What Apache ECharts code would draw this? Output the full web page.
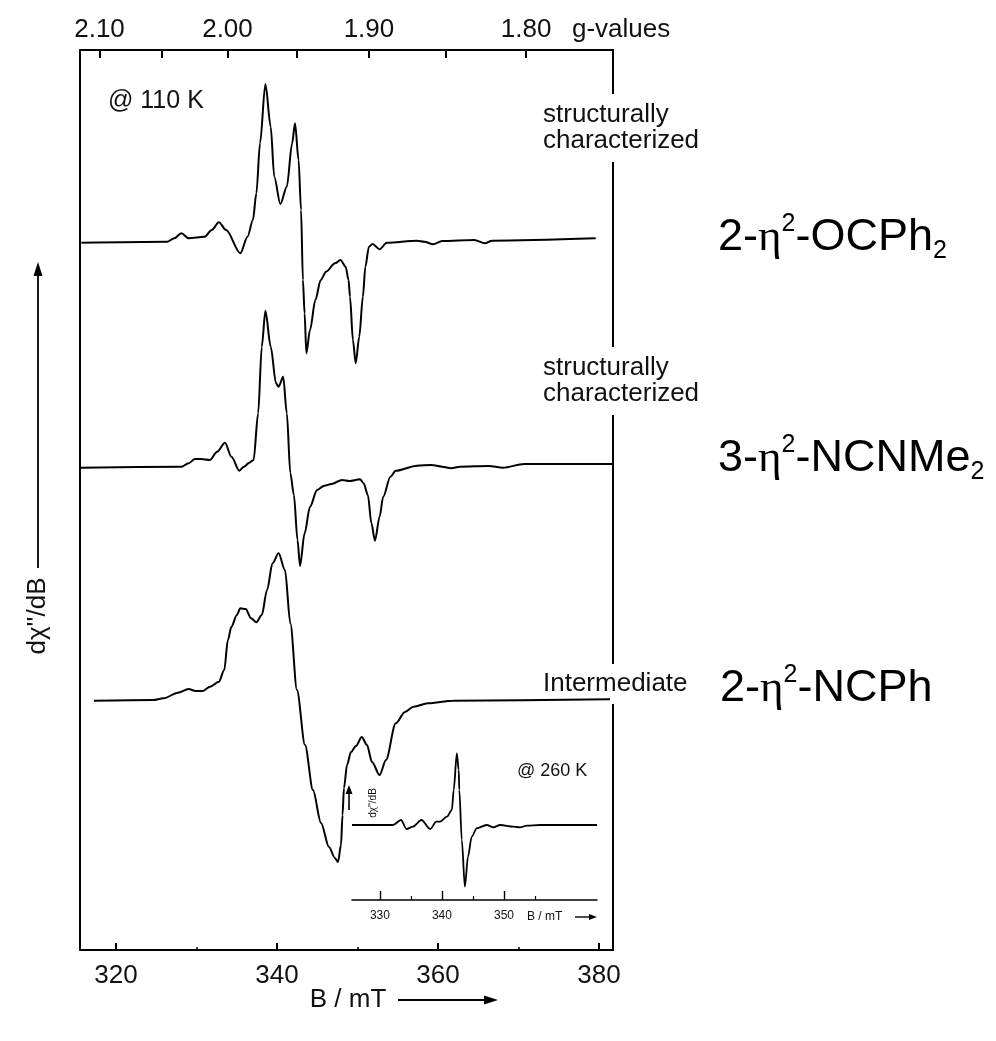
<!DOCTYPE html>
<html><head><meta charset="utf-8">
<script src="https://cdn.jsdelivr.net/npm/echarts@6/dist/echarts.min.js"></script>
<style>html,body{margin:0;padding:0;background:#fff}#c{width:996px;height:1041px}</style>
</head><body><div id="c"></div>
<script>
// ---- axis values ----
const bottomTicks = [320, 340, 360, 380];
const bottomMinorTicks = [330, 350, 370];
const gTicks = [2.10, 2.05, 2.00, 1.95, 1.90, 1.85, 1.80];
const gLabels = [2.10, 2.00, 1.90, 1.80];
const gFactor = 667.7;               // B(mT) * g for the microwave frequency used
const insetTicks = [330, 340, 350];
const insetMinorTicks = [335, 345, 355];

// ---- spectra: [B / mT, dχ''/dB (arbitrary units, stacked)] ----
const spectrumOCPh2 = [[315.70,707.3],[326.35,708.3],[327.24,711.7],[328.12,716.7],[329.02,711.7],[331.01,713.3],[331.90,720.0],[332.78,727.7],[333.68,720.0],[335.45,696.7],[336.34,713.3],[337.01,730.0],[337.44,756.7],[337.89,806.7],[338.56,866.0],[339.22,823.3],[339.66,773.3],[340.42,746.0],[341.22,763.3],[341.88,806.7],[342.24,826.7],[342.68,790.0],[342.99,740.0],[343.22,670.0],[343.43,636.7],[343.65,596.7],[344.10,620.0],[344.77,650.0],[345.43,670.0],[346.09,678.3],[347.20,686.7],[347.88,690.0],[348.53,683.3],[348.89,670.0],[349.07,653.3],[349.43,610.0],[349.78,586.7],[350.22,613.3],[350.67,653.3],[350.98,683.3],[351.42,703.3],[351.86,706.0],[352.75,700.7],[353.64,707.3],[357.39,709.3],[358.30,708.3],[359.40,705.7],[360.51,709.0],[364.51,710.0],[365.84,706.7],[366.72,709.3],[379.59,711.7]];
const spectrumNCNMe2 = [[315.61,482.3],[328.12,483.3],[329.02,486.7],[329.81,491.0],[330.56,491.0],[331.68,490.0],[332.56,498.3],[333.54,507.3],[334.34,493.3],[335.32,479.3],[335.89,483.3],[336.56,487.3],[337.09,490.0],[337.66,536.7],[338.11,603.3],[338.56,639.3],[339.22,603.3],[339.88,566.7],[340.20,563.3],[340.77,573.3],[341.22,536.7],[341.66,476.7],[342.10,455.0],[342.55,410.0],[342.86,384.0],[343.43,416.7],[344.10,443.3],[344.98,460.0],[345.88,464.3],[346.76,466.0],[348.09,470.0],[348.98,469.0],[350.31,470.7],[350.76,466.7],[351.29,455.0],[351.73,426.7],[352.17,409.3],[352.75,433.3],[353.19,453.3],[354.09,473.3],[354.75,479.3],[357.40,484.3],[359.18,485.0],[360.51,483.3],[361.63,481.7],[362.73,483.3],[366.29,484.0],[368.06,482.3],[370.72,486.0],[381.73,486.0]];
const spectrumNCPh = [[317.25,249.3],[324.58,250.0],[325.91,251.7],[327.69,257.3],[329.02,261.0],[329.90,259.0],[330.80,259.0],[331.68,263.3],[332.78,268.3],[333.45,280.0],[333.90,310.0],[334.34,323.3],[335.01,335.0],[335.45,341.7],[336.11,341.0],[336.78,331.7],[337.44,327.7],[338.11,335.0],[338.77,360.0],[339.44,386.7],[340.20,396.7],[340.99,380.0],[341.66,326.7],[342.48,260.0],[343.48,205.0],[344.47,160.0],[345.47,127.0],[346.46,103.0],[347.20,92.0],[347.58,88.0],[347.95,105.0],[348.14,135.0],[348.32,162.0],[348.70,185.0],[349.19,198.0],[349.81,204.0],[350.53,213.0],[351.18,205.0],[351.80,188.0],[352.75,175.0],[353.54,190.0],[354.75,226.7],[355.90,238.0],[356.97,243.3],[358.75,246.7],[361.86,249.3],[381.37,250.7]];
const spectrum260K = [[325.5,75],[332.1,75],[333.4,80],[334.3,71],[335.3,73.3],[336.7,80],[338.1,71],[339.1,78.3],[339.7,78.3],[340.8,83.3],[341.6,90],[341.9,110],[342.4,146.7],[342.7,130],[342.8,110],[343.2,60],[343.7,13.3],[344.2,43.3],[344.8,63.3],[345.6,71.7],[347.2,75],[348.3,72.7],[349.4,75],[351.5,73.3],[352.6,72.7],[353.7,74.3],[355.8,75],[365.0,75]];

const FONT = "'Liberation Sans', Arial, Helvetica, sans-serif";
const INK = '#111';
const chart = echarts.init(document.getElementById('c'), null, {renderer: 'canvas'});

function lineSeries(data, xi, yi, w) {
  return {type: 'line', data, xAxisIndex: xi, yAxisIndex: yi, showSymbol: false, symbol: 'none',
    smooth: 0.3, smoothMonotone: 'x', z: 5, silent: true,
    lineStyle: {color: '#000', width: w}};
}
const noSplit = {show: false};
const chemRich = {
  n: {fontSize: 45, fontFamily: FONT, lineHeight: 52, color: INK},
  e: {fontSize: 45, fontFamily: "'Liberation Serif', 'DejaVu Serif', serif", lineHeight: 52, color: INK},
  p: {fontSize: 25, fontFamily: FONT, lineHeight: 36, verticalAlign: 'top', color: INK},
  b: {fontSize: 25, fontFamily: FONT, lineHeight: 23, verticalAlign: 'bottom', color: INK}
};

const option = {
  backgroundColor: '#fff',
  animation: false,
  grid: [
    {left: 80, top: 50, width: 533, height: 900, outerBoundsMode: 'none'},
    {left: 352, top: 745, width: 245, height: 155, outerBoundsMode: 'none'}
  ],
  xAxis: [
    {type: 'value', gridIndex: 0, position: 'bottom', min: 315.53, max: 381.74,
     axisLine: {show: true, onZero: false, lineStyle: {color: '#000', width: 2}},
     axisTick: {show: true, inside: true, length: 7, customValues: bottomTicks, lineStyle: {color: '#000', width: 2}},
     axisLabel: {show: true, customValues: bottomTicks, margin: 13, fontSize: 26, fontFamily: FONT, color: INK},
     splitLine: noSplit},
    {type: 'value', gridIndex: 0, position: 'bottom', min: 315.53, max: 381.74,
     axisLine: {show: false, onZero: false},
     axisTick: {show: true, inside: true, length: 3, customValues: bottomMinorTicks, lineStyle: {color: '#000', width: 1.5}},
     axisLabel: {show: false}, splitLine: noSplit},
    {type: 'value', gridIndex: 0, position: 'top', min: 315.53, max: 381.74,
     axisLine: {show: true, onZero: false, lineStyle: {color: '#000', width: 2}},
     axisTick: {show: true, inside: true, length: 8, customValues: gTicks.map(g => gFactor / g), lineStyle: {color: '#000', width: 2}},
     axisLabel: {show: true, customValues: gLabels.map(g => gFactor / g), margin: 7, fontSize: 26, fontFamily: FONT, color: INK,
       formatter: v => (gFactor / v).toFixed(2)},
     splitLine: noSplit},
    {type: 'value', gridIndex: 1, position: 'bottom', min: 325.5, max: 365.0,
     axisLine: {show: true, onZero: false, lineStyle: {color: '#000', width: 1.6}},
     axisTick: {show: true, inside: true, length: 9, customValues: insetTicks, lineStyle: {color: '#000', width: 1.4}},
     axisLabel: {show: true, customValues: insetTicks, margin: 10, fontSize: 12, fontFamily: FONT, color: INK},
     splitLine: noSplit},
    {type: 'value', gridIndex: 1, position: 'bottom', min: 325.5, max: 365.0,
     axisLine: {show: false, onZero: false},
     axisTick: {show: true, inside: true, length: 4, customValues: insetMinorTicks, lineStyle: {color: '#000', width: 1.2}},
     axisLabel: {show: false}, splitLine: noSplit}
  ],
  yAxis: [
    {type: 'value', gridIndex: 0, position: 'left', min: 0, max: 900,
     axisLine: {show: true, onZero: false, lineStyle: {color: '#000', width: 2}},
     axisTick: {show: false}, axisLabel: {show: false}, splitLine: noSplit},
    {type: 'value', gridIndex: 0, position: 'right', min: 0, max: 900,
     axisLine: {show: true, onZero: false, lineStyle: {color: '#000', width: 2}},
     axisTick: {show: false}, axisLabel: {show: false}, splitLine: noSplit},
    {type: 'value', gridIndex: 1, min: 0, max: 155, show: false}
  ],
  series: [
    lineSeries(spectrumOCPh2, 0, 0, 2),
    lineSeries(spectrumNCNMe2, 0, 0, 2),
    lineSeries(spectrumNCPh, 0, 0, 2),
    lineSeries(spectrum260K, 3, 2, 1.8)
  ],
  graphic: {elements: [
    {type: 'text', z: 1, x: 108, y: 101, style: {text: '@ 110 K', font: '25px ' + FONT, fill: INK, verticalAlign: 'middle'}},
    {type: 'text', z: 1, x: 541, y: 128, style: {text: 'structurally\ncharacterized', font: '26px ' + FONT, lineHeight: 26, fill: INK,
      verticalAlign: 'middle', backgroundColor: '#fff', padding: [8, 4, 8, 2]}},
    {type: 'text', z: 1, x: 541, y: 381, style: {text: 'structurally\ncharacterized', font: '26px ' + FONT, lineHeight: 26, fill: INK,
      verticalAlign: 'middle', backgroundColor: '#fff', padding: [8, 4, 8, 2]}},
    {type: 'text', z: 1, x: 541, y: 684, style: {text: 'Intermediate', font: '26px ' + FONT, lineHeight: 26, fill: INK,
      verticalAlign: 'middle', backgroundColor: '#fff', padding: [7, 4, 7, 2]}},
    {type: 'text', z: 1, x: 718, y: 238, style: {text: '{n|2-}{e|η}{p|2}{n|-OCPh}{b|2}', rich: chemRich, verticalAlign: 'middle'}},
    {type: 'text', z: 1, x: 718, y: 459, style: {text: '{n|3-}{e|η}{p|2}{n|-NCNMe}{b|2}', rich: chemRich, verticalAlign: 'middle'}},
    {type: 'text', z: 1, x: 720, y: 689, style: {text: '{n|2-}{e|η}{p|2}{n|-NCPh}', rich: chemRich, verticalAlign: 'middle'}},
    {type: 'text', z: 1, x: 572, y: 30, style: {text: 'g-values', font: '26px ' + FONT, fill: INK, verticalAlign: 'middle'}},
    // main y axis name + arrow
    {type: 'text', z: 1, x: 38, y: 616, rotation: Math.PI / 2, style: {text: "dχ''/dB", font: '26px ' + FONT, fill: INK, align: 'center', verticalAlign: 'middle'}},
    {type: 'line', z: 1, shape: {x1: 38, y1: 568, x2: 38, y2: 272}, style: {stroke: '#000', lineWidth: 1.8}},
    {type: 'polygon', z: 1, shape: {points: [[38, 262], [33.5, 276], [42.5, 276]]}, style: {fill: '#000'}},
    // main x axis name + arrow
    {type: 'text', z: 1, x: 348, y: 1000, style: {text: 'B / mT', font: '26px ' + FONT, fill: INK, align: 'center', verticalAlign: 'middle'}},
    {type: 'line', z: 1, shape: {x1: 398, y1: 1000, x2: 488, y2: 1000}, style: {stroke: '#000', lineWidth: 1.8}},
    {type: 'polygon', z: 1, shape: {points: [[498, 1000], [484, 995.5], [484, 1004.5]]}, style: {fill: '#000'}},
    // inset annotations
    {type: 'text', z: 1, x: 517, y: 771, style: {text: '@ 260 K', font: '18px ' + FONT, fill: INK, verticalAlign: 'middle'}},
    {type: 'text', z: 1, x: 373, y: 803, rotation: Math.PI / 2, style: {text: "dχ''/dB", font: '10px ' + FONT, fill: INK, align: 'center', verticalAlign: 'middle'}},
    {type: 'line', z: 1, shape: {x1: 349, y1: 810, x2: 349, y2: 792}, style: {stroke: '#000', lineWidth: 1.6}},
    {type: 'polygon', z: 1, shape: {points: [[349, 785], [345.5, 794], [352.5, 794]]}, style: {fill: '#000'}},
    {type: 'text', z: 1, x: 527, y: 917, style: {text: 'B / mT', font: '12px ' + FONT, fill: INK, verticalAlign: 'middle'}},
    {type: 'line', z: 1, shape: {x1: 575, y1: 917, x2: 590, y2: 917}, style: {stroke: '#000', lineWidth: 1.4}},
    {type: 'polygon', z: 1, shape: {points: [[597, 917], [589, 914], [589, 920]]}, style: {fill: '#000'}}
  ]}
};
chart.setOption(option);
</script>
</body></html>
